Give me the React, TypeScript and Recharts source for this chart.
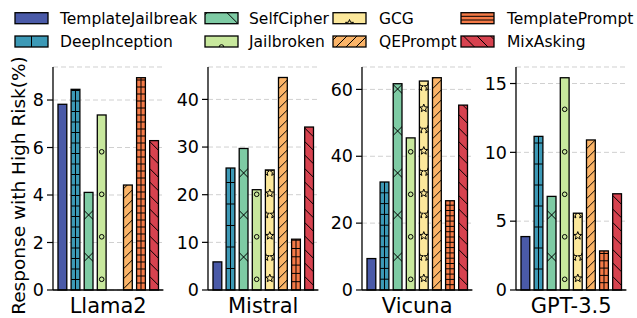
import React from 'react';
import { BarChart, Bar, XAxis, YAxis, CartesianGrid } from 'recharts';

const methods = ['TemplateJailbreak', 'DeepInception', 'SelfCipher', 'Jailbroken', 'GCG', 'QEPrompt', 'TemplatePrompt', 'MixAsking'];
const models = ['Llama2', 'Mistral', 'Vicuna', 'GPT-3.5'];

const llama2Values = [7.82, 8.45, 4.11, 7.37, 0, 4.42, 8.94, 6.29];
const mistralValues = [5.9, 25.6, 29.7, 21.05, 25.2, 44.6, 10.66, 34.2];
const vicunaValues = [9.4, 32.3, 61.7, 45.5, 62.5, 63.5, 26.7, 55.3];
const gpt35Values = [3.88, 11.16, 6.8, 15.42, 5.58, 10.9, 2.84, 6.99];

const llama2Ticks = [0, 2, 4, 6, 8];
const mistralTicks = [0, 10, 20, 30, 40];
const vicunaTicks = [0, 20, 40, 60];
const gpt35Ticks = [0, 5, 10, 15];

const yMaxes = [9.39, 46.8, 66.7, 16.2];

const seriesByModel = [llama2Values, mistralValues, vicunaValues, gpt35Values];
const ticksByModel = [llama2Ticks, mistralTicks, vicunaTicks, gpt35Ticks];

// styles
const colors = ['#4a5aa8', '#3c99b6', '#7ecba4', '#c8e89d', '#fce89b', '#fbb468', '#f57a47', '#d7424f'];
const hatchKinds = ['none', 'plus', 'x', 'circle', 'star', 'slash', 'hplus', 'backslash'];
const diSpacing = [10.5, 21.5, 10.8, 21];
const tpSpacing = [7, 8.3, 5.3, 7.3];
const frameLefts = [53.3, 207.7, 361.7, 516];
const FONT = 'DejaVu Sans';

type HP = {
  x: number; y: number; width: number; height: number; fill: string; kind: string;
  hs?: number; ts?: number; uid: string; legend?: boolean;
};

function starPath(cx: number, cy: number, ro: number, ri: number) {
  let d = '';
  for (let k = 0; k < 10; k++) {
    const r = k % 2 === 0 ? ro : ri;
    const a = -Math.PI / 2 + (k * Math.PI) / 5;
    d += (k === 0 ? 'M' : 'L') + (cx + r * Math.cos(a)).toFixed(2) + ' ' + (cy + r * Math.sin(a)).toFixed(2);
  }
  return d + 'Z';
}

function Hatch({ x, y, width: w, height: h, fill, kind, hs = 10.5, ts = 7, uid, legend }: HP) {
  if (!(h > 0) || !(w > 0)) return null;
  const b = y + h;
  const r = x + w;
  const cx = x + w / 2;
  const els: React.ReactElement[] = [];
  const sw = 1;
  const line = (k: string, x1: number, y1: number, x2: number, y2: number) =>
    els.push(<line key={k} x1={x1} y1={y1} x2={x2} y2={y2} stroke="#000" strokeWidth={sw} />);

  if (kind === 'plus' || kind === 'hplus') {
    const s = kind === 'plus' ? hs : ts;
    let i = 0;
    for (let yy = b - s; yy > y; yy -= s, i++) line('h' + i, x, yy, r, yy);
    if (!(legend && kind === 'hplus')) line('v', cx, y, cx, b);
  }
  if (kind === 'x') {
    const P = 42;
    const ph = legend ? 0 : 33;
    const xc = legend ? cx + w / 2 : cx;
    let i = 0;
    for (let cy = b - ph + P; cy > y - P; cy -= P, i++) {
      line('a' + i, xc - P, cy - P, xc + P, cy + P);
      line('b' + i, xc - P, cy + P, xc + P, cy - P);
    }
  }
  if (kind === 'slash' || kind === 'backslash') {
    const s = kind === 'slash' ? 10 : 13.5;
    let i = 0;
    for (let y0 = b + w + s; y0 > y - s; y0 -= s, i++) {
      if (kind === 'slash') line('s' + i, x, y0, r, y0 - w);
      else line('s' + i, x, y0 - w, r, y0);
    }
  }
  if (kind === 'circle') {
    const ph = legend ? 0 : 10.7;
    let i = 0;
    for (let cy = b - ph; cy > y - 4; cy -= 42.5, i++)
      els.push(<circle key={'c' + i} cx={cx} cy={cy} r={2.3} fill="none" stroke="#000" strokeWidth={sw} />);
  }
  if (kind === 'star') {
    const ph = legend ? 0 : 11.7;
    let i = 0;
    for (let cy = b - ph; cy > y - 6; cy -= 42.5, i++)
      els.push(<path key={'st' + i} d={starPath(cx, cy, 4.2, 1.8)} fill="none" stroke="#000" strokeWidth={sw} />);
    if (!legend) {
      let j = 0;
      for (let cy = b - ph - 21.25; cy > y - 6; cy -= 42.5, j++) {
        els.push(<path key={'sl' + j} d={starPath(x, cy, 4.2, 1.8)} fill="none" stroke="#000" strokeWidth={sw} />);
        els.push(<path key={'sr' + j} d={starPath(r, cy, 4.2, 1.8)} fill="none" stroke="#000" strokeWidth={sw} />);
      }
    }
  }

  return (
    <g>
      <defs>
        <clipPath id={uid}>
          <rect x={x} y={y} width={w} height={h} />
        </clipPath>
      </defs>
      <rect x={x} y={y} width={w} height={h} fill={fill} />
      <g clipPath={`url(#${uid})`}>{els}</g>
      <rect x={x} y={y} width={w} height={h} fill="none" stroke="#000" strokeWidth={1.3} />
    </g>
  );
}

const legendPatchX = [15, 205, 333, 461];
const legendTextX = [60, 249, 379, 507];
const legendRowTop = [12.7, 36];
const legendBaseline = [23.8, 46.5];

function LegendBlock() {
  return (
    <svg style={{ position: 'absolute', left: 0, top: 0 }} width={637} height={56}>
      {methods.map((m, i) => {
        const col = Math.floor(i / 2);
        const row = i % 2;
        return (
          <g key={m}>
            <Hatch
              x={legendPatchX[col]} y={legendRowTop[row]} width={33} height={11}
              fill={colors[i]} kind={hatchKinds[i]} hs={30} ts={3.7} uid={'lg' + i} legend
            />
            <text x={legendTextX[col]} y={legendBaseline[row]} fontSize={15.5} fontFamily={FONT} fill="#000">{m}</text>
          </g>
        );
      })}
    </svg>
  );
}

function Panel({ i }: { i: number }) {
  const L = frameLefts[i];
  const row: Record<string, any> = { name: models[i] };
  methods.forEach((m, k) => { row[m] = seriesByModel[i][k]; });
  const data = [row];
  return (
    <div style={{ position: 'absolute', left: L - 50, top: 60 }}>
      <BarChart width={162.4} height={258} data={data} margin={{ top: 7, right: 2, bottom: 0, left: 0 }} barSize={8.8} barGap={4.3}>
        <CartesianGrid vertical={false} stroke="#d0d0d0" strokeDasharray="5 3" />
        <XAxis
          dataKey="name" tickLine={false} tickSize={0} tickMargin={7.8} interval={0} height={28}
          axisLine={{ stroke: '#000', strokeWidth: 1.3 }}
          tick={{ fontSize: 21, fill: '#000', fontFamily: FONT }}
        />
        <XAxis xAxisId="t" orientation="top" dataKey="name" tick={false} tickLine={false} height={0}
          axisLine={{ stroke: '#000', strokeWidth: 1.3 }} />
        <YAxis
          domain={[0, yMaxes[i]]} ticks={ticksByModel[i]} width={50} tickSize={6} tickMargin={3}
          tickLine={{ stroke: '#000', strokeWidth: 1.2 }} axisLine={{ stroke: '#000', strokeWidth: 1.3 }}
          tick={{ fontSize: 17.5, fill: '#000', fontFamily: FONT }} interval={0}
        />
        <YAxis yAxisId="r" orientation="right" tick={false} tickLine={false} width={0} domain={[0, 1]}
          axisLine={{ stroke: '#000', strokeWidth: 1.3 }} />
        {methods.map((m, k) => (
          <Bar
            key={m} dataKey={m} fill={colors[k]} isAnimationActive={false}
            shape={(p: any) => (
              <Hatch
                x={p.x} y={p.y} width={p.width} height={p.height} fill={colors[k]}
                kind={hatchKinds[k]} hs={diSpacing[i]} ts={tpSpacing[i]} uid={`p${i}s${k}i${p.index ?? 0}`}
              />
            )}
          />
        ))}
      </BarChart>
    </div>
  );
}

export default function App() {
  return (
    <div style={{ position: 'absolute', left: 0, top: 0, width: 637, height: 318, background: '#fff', overflow: 'hidden', fontFamily: FONT }}>
      <LegendBlock />
      <svg style={{ position: 'absolute', left: 0, top: 0 }} width={40} height={318}>
        <text x={0} y={0} transform="translate(25,185.5) rotate(-90)" textAnchor="middle" fontSize={18.5} fontFamily={FONT} fill="#000">
          Response with High Risk(%)
        </text>
      </svg>
      {models.map((m, i) => <Panel key={m} i={i} />)}
    </div>
  );
}
